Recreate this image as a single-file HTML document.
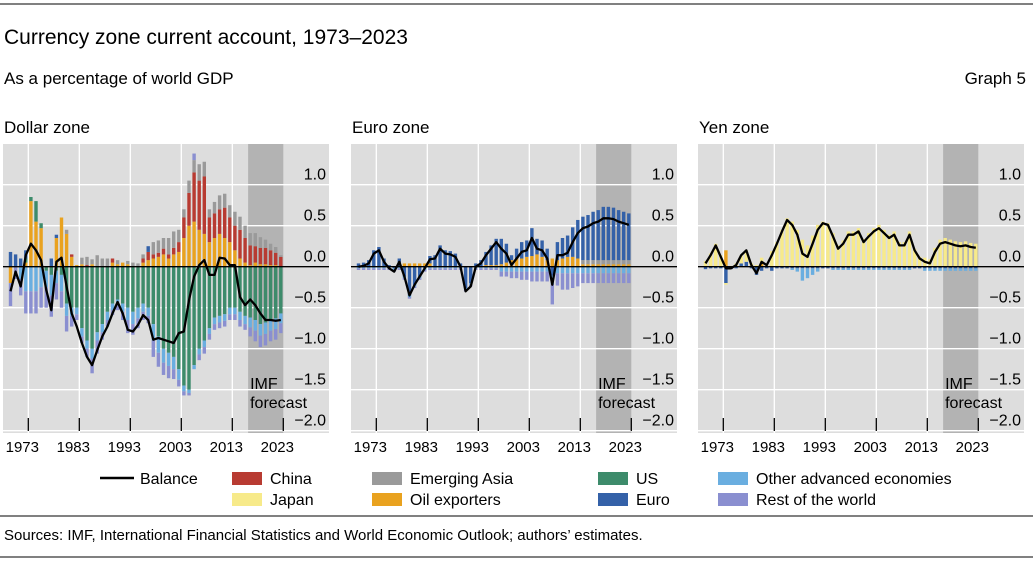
<!DOCTYPE html>
<html><head><meta charset="utf-8"><style>
body{margin:0;background:#fff;width:1033px;height:562px;overflow:hidden;font-family:"Liberation Sans",sans-serif;}
svg text{font-family:"Liberation Sans",sans-serif;}
</style></head><body>
<svg id="chart" width="1033" height="562" xmlns="http://www.w3.org/2000/svg">
<line x1="0" y1="4" x2="1033" y2="4" stroke="#000" stroke-width="1"/>
<text x="4" y="44" font-size="21">Currency zone current account, 1973–2023</text>
<text x="4" y="84" font-size="17">As a percentage of world GDP</text>
<text x="1026" y="84" font-size="17" text-anchor="end">Graph 5</text>
<text x="4" y="133" font-size="17">Dollar zone</text>
<text x="352" y="133" font-size="17">Euro zone</text>
<text x="699" y="133" font-size="17">Yen zone</text>
<g id="panels"></g>
<g id="legend">
<line x1="100" y1="478" x2="134" y2="478" stroke="#000" stroke-width="2.5"/>
<text x="140" y="484" font-size="16">Balance</text>
<rect x="232" y="472" width="30" height="13" fill="#b83b32"/>
<text x="270" y="484" font-size="16">China</text>
<rect x="232" y="493" width="30" height="13" fill="#f7ea8a"/>
<text x="270" y="505" font-size="16">Japan</text>
<rect x="372" y="472" width="30" height="13" fill="#9a9a9a"/>
<text x="410" y="484" font-size="16">Emerging Asia</text>
<rect x="372" y="493" width="30" height="13" fill="#e9a21f"/>
<text x="410" y="505" font-size="16">Oil exporters</text>
<rect x="598" y="472" width="30" height="13" fill="#3d8b6b"/>
<text x="636" y="484" font-size="16">US</text>
<rect x="598" y="493" width="30" height="13" fill="#3461a8"/>
<text x="636" y="505" font-size="16">Euro</text>
<rect x="718" y="472" width="30" height="13" fill="#6aaee0"/>
<text x="756" y="484" font-size="16">Other advanced economies</text>
<rect x="718" y="493" width="30" height="13" fill="#8a8fd0"/>
<text x="756" y="505" font-size="16">Rest of the world</text>
</g>
<line x1="0" y1="516" x2="1033" y2="516" stroke="#000" stroke-width="1"/>
<text x="4" y="540" font-size="15">Sources: IMF, International Financial Statistics and World Economic Outlook; authors’ estimates.</text>
<line x1="0" y1="557" x2="1033" y2="557" stroke="#000" stroke-width="1"/>
</svg>
<script>
const years = [];
for (let y = 1970; y <= 2023; y++) years.push(y);
const seriesOrder = ['oil','china','easia','us','euro','japan','oae','row'];
const colors = {oil:'#e9a21f',china:'#b83b32',easia:'#9a9a9a',us:'#3d8b6b',euro:'#3461a8',japan:'#f7ea8a',oae:'#6aaee0',row:'#8a8fd0'};
const yTicks = [1.0,0.5,0.0,-0.5,-1.0,-1.5,-2.0];
const xTickYears = [1973,1983,1993,2003,2013,2023];

// Dollar zone
const dollarOil = [-0.2,0,0,0.05,0.8,0.55,0.47,0,0,0.35,0.6,0.4,0.12,0.02,0.03,0,0.03,0,0,0,0.05,0.03,0.05,0.03,0,0,0.05,0.08,0.1,0.12,0.15,0.1,0.15,0.18,0.35,0.5,0.55,0.45,0.4,0.3,0.35,0.4,0.35,0.3,0.2,0.1,0.05,0.02,0.05,0.03,0.03,0.02,0.02,0];
const dollarChina = [0,0,0,0,0,0,0,0,0,0,0,0,0.03,0,0,0.02,0,0,0,0,0.05,0,0,0,0,0,0.05,0.1,0.05,0.05,0.07,0.05,0.08,0.12,0.25,0.4,0.6,0.6,0.7,0.3,0.3,0.3,0.37,0.3,0.3,0.35,0.3,0.24,0.2,0.2,0.2,0.18,0.15,0.12];
const dollarEasia = [0,0,0,0,0,0,0,0,0,0,0,0.05,0,0,0.08,0.1,0.06,0.14,0.1,0.1,0,0.05,0,0.04,0.05,0.04,0.05,0,0.15,0.15,0.13,0.2,0.2,0.15,0.1,0.15,0.15,0.2,0.18,0.1,0.14,0.17,0.17,0.15,0.17,0.16,0.15,0.15,0.16,0.13,0.1,0.08,0.07,0.02];
const dollarUs = [0,0,0,0.05,0.05,0.25,0.06,-0.05,-0.1,-0.05,-0.1,-0.45,-0.5,-0.5,-0.75,-0.9,-1.0,-0.8,-0.7,-0.55,-0.45,-0.4,-0.45,-0.5,-0.55,-0.5,-0.45,-0.5,-0.7,-0.85,-1.0,-1.05,-1.1,-1.25,-1.45,-1.5,-1.2,-1.0,-0.9,-0.75,-0.62,-0.6,-0.58,-0.5,-0.5,-0.55,-0.6,-0.62,-0.65,-0.7,-0.68,-0.65,-0.63,-0.57];
const dollarEuro = [0.18,0.15,0.1,0.1,0,0,0,0,0.1,0.04,0,0,0,0,0,0,0,0,0,0,0,0,0,0,0,0,0,0.07,0,0,0,0,0,0,0,0,0,0,0,0,0,0,0,0,0,0,0,0,0,0,0,0,0,0];
const dollarOae = [0,0,-0.15,-0.3,-0.3,-0.3,-0.25,-0.2,-0.25,-0.15,-0.2,-0.15,-0.1,-0.08,-0.1,-0.1,-0.12,-0.1,-0.1,-0.1,-0.08,-0.07,-0.1,-0.15,-0.15,-0.13,-0.1,-0.1,-0.2,-0.2,-0.17,-0.16,-0.15,-0.13,-0.07,-0.04,-0.05,-0.07,-0.08,-0.07,-0.08,-0.08,-0.08,-0.08,-0.08,-0.1,-0.1,-0.12,-0.13,-0.14,-0.14,-0.13,-0.13,-0.12];
const dollarRow = [-0.28,-0.15,-0.2,-0.27,-0.27,-0.27,-0.25,-0.25,-0.26,-0.2,-0.2,-0.19,-0.13,-0.07,-0.08,-0.1,-0.18,-0.16,-0.09,-0.08,-0.06,-0.06,-0.1,-0.16,-0.13,-0.12,-0.1,-0.09,-0.2,-0.17,-0.15,-0.15,-0.12,-0.08,-0.05,-0.03,0.08,-0.07,-0.08,-0.07,-0.07,-0.07,-0.07,-0.07,-0.07,-0.08,-0.07,-0.11,-0.13,-0.14,-0.14,-0.13,-0.13,-0.12];
const dollarBalance = [-0.3,-0.06,-0.24,0.14,0.28,0.2,0.08,-0.28,-0.53,0.06,0.11,-0.24,-0.57,-0.73,-0.93,-1.1,-1.2,-1.02,-0.85,-0.73,-0.57,-0.43,-0.57,-0.77,-0.79,-0.71,-0.59,-0.65,-0.89,-0.87,-0.89,-0.91,-0.93,-0.81,-0.79,-0.41,-0.12,0.02,0.08,-0.1,-0.1,0.11,0.1,0.02,0.02,-0.37,-0.47,-0.4,-0.47,-0.57,-0.65,-0.65,-0.66,-0.65];

// Euro zone
const euroOil = [0,0,0,0,0,0,0,0,0,0.04,0.04,0.04,0.04,0.04,0.04,0,0,0,0,0,0,0,0,0,0,0.02,0.02,0.02,0.03,0.05,0.08,0.1,0.1,0.12,0.13,0.15,0.12,0.08,0.1,0.08,0.1,0.12,0.12,0.1,0.03,0.03,0.03,0.03,0.03,0.03,0.03,0.03,0.03,0.03];
const euroEasia = [0,0,0,0,0,0,0,0,0,0,0,0,0,0,0,0,0,0,0,0,0,0,0,0,0,0,0,0,0,0,0,0,0,0,0,0,0,0,0,0,0,0,0,0,0.05,0.05,0.05,0.05,0.05,0.05,0.05,0.05,0.05,0.05];
const euroEuro = [0.04,0.05,0.08,0.2,0.24,0.1,0.02,-0.02,0.1,-0.12,-0.35,-0.22,-0.12,-0.02,0.09,0.14,0.26,0.2,0.19,0.16,0.04,-0.26,-0.2,0.04,0.08,0.16,0.24,0.32,0.31,0.23,0.06,0.12,0.2,0.2,0.34,0.19,0.2,0.14,-0.11,0.22,0.25,0.26,0.36,0.47,0.53,0.55,0.59,0.61,0.65,0.65,0.64,0.61,0.59,0.57];
const euroOae = [-0.02,-0.02,-0.02,-0.02,-0.02,-0.02,-0.02,-0.02,-0.02,-0.02,-0.02,-0.02,-0.02,-0.02,-0.02,-0.02,-0.02,-0.02,-0.02,-0.02,-0.02,-0.02,-0.02,-0.02,-0.02,-0.02,-0.02,-0.02,-0.06,-0.06,-0.06,-0.06,-0.06,-0.06,-0.06,-0.06,-0.06,-0.06,-0.1,-0.08,-0.08,-0.08,-0.08,-0.08,-0.08,-0.08,-0.08,-0.08,-0.08,-0.08,-0.08,-0.08,-0.08,-0.08];
const euroRow = [-0.02,-0.02,-0.02,-0.02,-0.02,-0.02,-0.02,-0.02,-0.02,-0.02,-0.02,-0.02,-0.02,-0.02,-0.02,-0.02,-0.02,-0.02,-0.02,-0.02,-0.02,-0.02,-0.02,-0.02,-0.02,-0.02,-0.02,-0.02,-0.06,-0.06,-0.08,-0.08,-0.1,-0.1,-0.12,-0.12,-0.12,-0.12,-0.25,-0.15,-0.2,-0.2,-0.18,-0.16,-0.12,-0.12,-0.12,-0.12,-0.12,-0.12,-0.12,-0.12,-0.12,-0.12];
const euroBalance = [0,0.01,0.04,0.16,0.2,0.06,-0.02,-0.06,0.06,-0.12,-0.35,-0.22,-0.12,-0.02,0.09,0.1,0.22,0.16,0.15,0.12,0,-0.3,-0.24,0,0.04,0.14,0.22,0.3,0.22,0.16,0.02,0.1,0.18,0.2,0.35,0.22,0.2,0.1,-0.22,0.14,0.14,0.17,0.3,0.41,0.47,0.49,0.53,0.55,0.59,0.59,0.58,0.55,0.53,0.51];

// Yen zone
const yenJapan = [0.07,0.16,0.28,0.14,-0.02,0.01,0.04,0.1,0.14,0.04,0.02,0.07,0.04,0.19,0.3,0.45,0.59,0.55,0.45,0.33,0.26,0.38,0.51,0.55,0.53,0.41,0.26,0.32,0.43,0.43,0.47,0.34,0.41,0.47,0.51,0.45,0.39,0.43,0.3,0.3,0.43,0.22,0.12,0.11,0.09,0.23,0.33,0.35,0.33,0.31,0.3,0.31,0.29,0.28];
const yenEuro = [-0.03,-0.02,-0.02,-0.02,-0.2,-0.03,-0.02,0.04,0.06,-0.02,-0.1,-0.05,-0.02,-0.05,-0.02,-0.02,-0.02,-0.02,-0.02,-0.02,-0.02,-0.02,-0.02,-0.02,-0.02,-0.02,-0.02,-0.02,-0.02,-0.02,-0.02,-0.02,-0.02,-0.02,-0.02,-0.02,-0.02,-0.02,-0.02,-0.02,-0.02,-0.02,-0.02,-0.02,-0.02,-0.02,-0.02,-0.02,-0.02,-0.02,-0.02,-0.02,-0.02,-0.02];
const yenOil = [0,0,0,0,0.2,0,0,0,0,0,0,0.04,0,0,0,0,0,0,0,0,0,0,0,0,0,0,0,0,0,0,0,0,0,0,0,0,0,0,0,0,0,0,0,0,0,0,0,0,0,0,0,0,0,0];
const yenOae = [0,0,0,0,0,0,0,0,0,0,0,0,0,0,0,0,0,-0.02,-0.04,-0.15,-0.12,-0.08,-0.04,0,0,-0.02,-0.02,-0.02,-0.02,-0.02,-0.02,-0.02,-0.02,-0.02,-0.02,-0.02,-0.02,-0.02,-0.02,-0.02,-0.02,0,0,-0.03,-0.03,-0.03,-0.03,-0.03,-0.03,-0.03,-0.03,-0.03,-0.03,-0.03];
const yenBalance = [0.04,0.14,0.26,0.12,-0.02,-0.02,0.02,0.14,0.2,0.02,-0.08,0.06,0.02,0.14,0.28,0.43,0.57,0.51,0.39,0.16,0.12,0.28,0.45,0.53,0.51,0.37,0.22,0.28,0.39,0.39,0.43,0.3,0.37,0.43,0.47,0.41,0.35,0.39,0.26,0.26,0.39,0.2,0.1,0.06,0.04,0.18,0.28,0.3,0.28,0.26,0.25,0.26,0.24,0.23];

const panels = [
  {name:'dollar', off:0, series:{oil:dollarOil,china:dollarChina,easia:dollarEasia,us:dollarUs,euro:dollarEuro,oae:dollarOae,row:dollarRow}, balance:dollarBalance},
  {name:'euro', off:348, series:{oil:euroOil,easia:euroEasia,euro:euroEuro,oae:euroOae,row:euroRow}, balance:euroBalance},
  {name:'yen', off:695, series:{oil:yenOil,euro:yenEuro,japan:yenJapan,oae:yenOae}, balance:yenBalance}
];
const NS = 'http://www.w3.org/2000/svg';
function mk(tag, attrs, parent){ const e=document.createElementNS(NS,tag); for(const k in attrs) e.setAttribute(k,attrs[k]); parent.appendChild(e); return e; }
const root = document.getElementById('panels');
const Y0 = 266.7, PX = 82;
function yS(v){ return Y0 - v*PX; }
panels.forEach(p=>{
  const off = p.off;
  function xS(yr){ return off + 28.3 + (yr-1973)*5.1; }
  const g = mk('g',{},root);
  
  
  const bg = mk('rect',{x:off+3,y:144,width:326,height:289,fill:'#dddddd'},g);
  
  
  const band = mk('rect',{x:xS(2016.1),y:144,width:xS(2023)-xS(2016.1),height:289,fill:'#b3b3b3'},g);
  
  
  yTicks.forEach(t=>{
    const gl = mk('line',{x1:off+3,x2:off+329,y1:yS(t),y2:yS(t),stroke:'#fff','stroke-width':1.3},g);
    
    
  });
  xTickYears.slice(0,5).forEach(yr=>{
    const gl = mk('line',{x1:xS(yr),x2:xS(yr),y1:144,y2:433,stroke:'#fff','stroke-width':1.3},g);
    
    
  });
  years.forEach((yr,i)=>{
    let pos=0, neg=0;
    const cx = xS(yr)-2.5;
    seriesOrder.forEach(s=>{
      const arr = p.series[s]; if(!arr) return;
      const v = arr[i]; if(!v) return;
      let y0, y1;
      if(v>0){ y0=pos; pos+=v; y1=pos; } else { y0=neg; neg+=v; y1=neg; }
      const r = mk('rect',{x:cx-1.7,width:3.4,y:Math.min(yS(y0),yS(y1)),height:Math.abs(yS(y0)-yS(y1)),fill:colors[s]},g);
      
      
    });
  });
  const z = mk('line',{x1:off+3,x2:off+329,y1:yS(0),y2:yS(0),stroke:'#000','stroke-width':1.3},g);
  
  
  const pts = p.balance.map((v,i)=>(xS(years[i])-2.5).toFixed(1)+','+yS(v).toFixed(1)).join(' ');
  const pl = mk('polyline',{points:pts,fill:'none',stroke:'#000','stroke-width':2.3,'stroke-linejoin':'round'},g);
  
  
  yTicks.forEach(t=>{
    const tx = mk('text',{x:off+326,y:yS(t)-5,'font-size':16,'text-anchor':'end',fill:'#000'},g);
    tx.textContent = (t<0?'\u2212':'')+Math.abs(t).toFixed(1);
    
    
  });
  xTickYears.forEach(yr=>{
    const tk = mk('line',{x1:xS(yr),x2:xS(yr),y1:418,y2:431,stroke:'#000','stroke-width':1.3},g);
    
    
    const tx = mk('text',{x:xS(yr)-6,y:452,'font-size':15,'text-anchor':'middle'},g);
    tx.textContent = yr;
    
    
  });
  const t1 = mk('text',{x:xS(2016.1)+2,y:389,'font-size':16},g);
  t1.textContent='IMF';
  
  
  const t2 = mk('text',{x:xS(2016.1)+2,y:408,'font-size':16},g);
  t2.textContent='forecast';
  
  
});
</script>
</body></html>
